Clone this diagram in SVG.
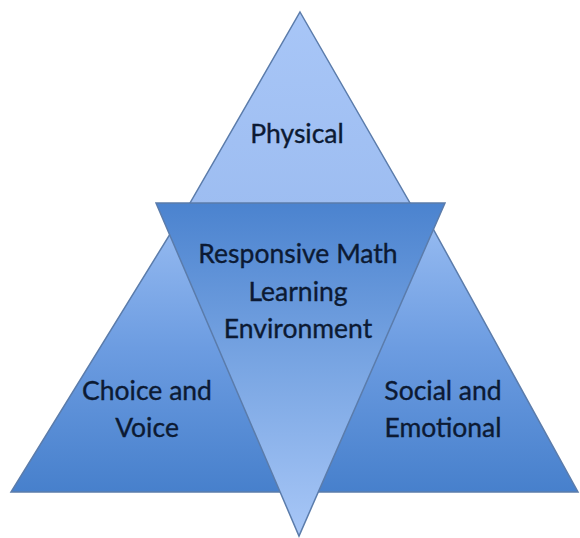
<svg xmlns="http://www.w3.org/2000/svg" width="580" height="538" viewBox="0 0 580 538">
  <style>
    .tri { stroke: #5b7cab; stroke-width: 1.5; stroke-linejoin: miter; }
    .lbl { font-family: Lato, "Open Sans", "Liberation Sans", sans-serif; font-size: 26.5px; fill: #0c1a33; stroke: #0c1a33; stroke-width: 0.35; text-anchor: middle; }
  </style>
  <defs>
    <linearGradient id="gTop" x1="0" y1="0" x2="0" y2="1">
      <stop offset="0" stop-color="#a8c6f7"/>
      <stop offset="1" stop-color="#9dbdf1"/>
    </linearGradient>
    <linearGradient id="gSide" gradientUnits="userSpaceOnUse" x1="0" y1="205" x2="0" y2="492">
      <stop offset="0" stop-color="#9cbff3"/>
      <stop offset="0.5" stop-color="#6c9ce1"/>
      <stop offset="1" stop-color="#4780cc"/>
    </linearGradient>
    <linearGradient id="gMid" gradientUnits="userSpaceOnUse" x1="0" y1="203" x2="0" y2="536">
      <stop offset="0" stop-color="#4b83cf"/>
      <stop offset="0.5" stop-color="#7aa6e3"/>
      <stop offset="1" stop-color="#a8c7f7"/>
    </linearGradient>
  </defs>
  <rect width="580" height="538" fill="#ffffff"/>
  <g id="connectors"/>
  <g id="physical">
    <polygon class="tri" points="300,12 414,210 186,210" fill="url(#gTop)"/>
    <text class="lbl" x="297" y="143">Physical</text>
  </g>
  <g id="choice-voice">
    <polygon class="tri" points="188,205 300,492 11,492" fill="url(#gSide)"/>
    <text class="lbl" x="147" y="400">Choice and</text>
    <text class="lbl" x="147" y="437">Voice</text>
  </g>
  <g id="social-emotional">
    <polygon class="tri" points="420,205 578,492 300,492" fill="url(#gSide)"/>
    <text class="lbl" x="443" y="400">Social and</text>
    <text class="lbl" x="443" y="437">Emotional</text>
  </g>
  <g id="responsive-math">
    <polygon class="tri" points="156,203 445,203 299,536" fill="url(#gMid)"/>
    <text class="lbl" x="298" y="263">Responsive Math</text>
    <text class="lbl" x="298" y="301">Learning</text>
    <text class="lbl" x="298" y="338">Environment</text>
  </g>
</svg>
